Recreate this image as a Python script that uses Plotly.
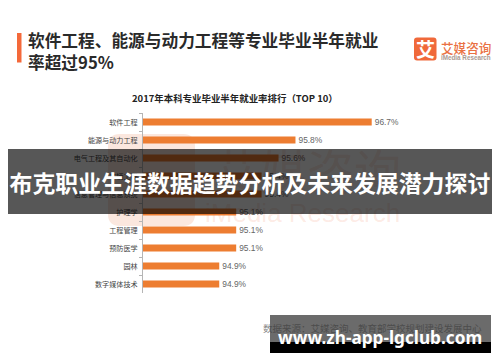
import plotly.graph_objects as go

categories = ["软件工程", "能源与动力工程", "电气工程及其自动化", "车辆工程", "信息管理与信息系统",
              "护理学", "工程管理", "预防医学", "园林", "数字媒体技术"]
rates = [96.7, 95.8, 95.6, 95.4, 95.4, 95.1, 95.1, 95.1, 94.9, 94.9]
title_lines = "软件工程、能源与动力工程等专业毕业半年就业<br>率超过95%"
chart_title = "2017年本科专业毕业半年就业率排行（TOP 10）"
source_text = "数据来源：艾媒咨询、教育部学校规划建设发展中心"
band_text = "布克职业生涯数据趋势分析及未来发展潜力探讨"
url_text = "www.zh-app-lgclub.com"

W, H = 500, 362
L, R, T, B = 143, 420, 113, 293
CJK = "Noto Sans CJK SC"


def xp(px):
    return (px - L) / (R - L)


def yp(py):
    return (B - py) / (B - T)


def note(text, x, y, size, color, xanchor="left", yanchor="middle", weight=None, family=CJK, **kw):
    font = dict(family=family, size=size, color=color)
    if weight:
        font["weight"] = weight
    return dict(text=text, x=xp(x), y=yp(y), xref="paper", yref="paper", xanchor=xanchor,
                yanchor=yanchor, showarrow=False, font=font, borderpad=0, borderwidth=0, **kw)


def box(x0, y0, x1, y1, color, text=" ", size=10, **kw):
    return note(text, x0, y0, size, "#ffffff", yanchor="top", bgcolor=color,
                width=x1 - x0, height=y1 - y0, align="center", **kw)


def rounded(x0, y0, x1, y1, r, color, layer):
    p = (f"M {xp(x0 + r)} {yp(y0)} L {xp(x1 - r)} {yp(y0)} Q {xp(x1)} {yp(y0)} {xp(x1)} {yp(y0 + r)} "
         f"L {xp(x1)} {yp(y1 - r)} Q {xp(x1)} {yp(y1)} {xp(x1 - r)} {yp(y1)} "
         f"L {xp(x0 + r)} {yp(y1)} Q {xp(x0)} {yp(y1)} {xp(x0)} {yp(y1 - r)} "
         f"L {xp(x0)} {yp(y0 + r)} Q {xp(x0)} {yp(y0)} {xp(x0 + r)} {yp(y0)} Z")
    return dict(type="path", xref="paper", yref="paper", path=p, fillcolor=color, line_width=0, layer=layer)


WM = "#fbe7de"
WM_TEXT = "rgba(240,110,60,0.15)"
shapes = [
    dict(type="rect", xref="paper", yref="paper", x0=xp(17), x1=xp(21.5), y0=yp(33), y1=yp(62.5),
         fillcolor="#f4693a", line_width=0, layer="above"),
    rounded(108, 134, 195, 226, 12, WM, "below"),
    rounded(414, 37.5, 436.5, 60.5, 3, "#f0693a", "above"),
]

annotations = [
    note("艾媒咨询", 213, 168, 47, WM_TEXT),
    note("iMedia Research", 205, 213, 26, WM_TEXT, family="Liberation Sans"),
    note(title_lines, 28, 51, 16.7, "#2a2a2a", weight=700, align="left"),
    note(chart_title, 234.5, 98, 9.45, "#222222", xanchor="center", weight=700),
    note("艾", 425, 49, 19, "#ffffff", xanchor="center", weight=700),
    note("艾媒咨询", 441, 47, 12.6, "#ea7144", weight=500),
    note("iMedia Research", 441, 57, 6.3, "#aa9a92", family="Liberation Sans", weight=700),
    note(source_text, 263, 328, 9.5, "#888888"),
    box(8, 149, 492, 214, "rgba(0,0,0,0.66)", text=band_text, size=22.9),
    box(270, 315, 491, 342, "rgba(55,55,55,0.74)"),
    box(270, 342, 491, 353, "#000000"),
    note(url_text, 380, 337, 17.2, "#ffffff", xanchor="center", weight=700, family="Noto Sans"),
]
annotations[8]["font"]["weight"] = 700

fig = go.Figure(go.Bar(
    x=rates, y=categories, orientation="h",
    marker=dict(color="#ed7d31", line_width=0),
    text=[f"{v:.1f}%" for v in rates], textposition="outside", cliponaxis=False,
    textfont=dict(family="Liberation Sans", size=8.4, color="#666666"),
))
fig.update_layout(
    width=W, height=H, autosize=False,
    margin=dict(l=L, r=W - R, t=T, b=H - B, pad=0),
    paper_bgcolor="#ffffff", plot_bgcolor="rgba(0,0,0,0)",
    bargap=0.6, showlegend=False, uniformtext=dict(minsize=8, mode="show"),
    shapes=shapes, annotations=annotations,
    xaxis=dict(range=[94, 97.27], visible=False),
    yaxis=dict(autorange="reversed", type="category", showline=True, linecolor="#b5b5b5", linewidth=1,
               ticks="outside", ticklen=3, tickcolor="#b5b5b5", tickson="boundaries", showgrid=False,
               ticklabelstandoff=3,
               tickfont=dict(family=CJK, size=7.1, color="#444444")),
)
fig.write_html("out.html", config=dict(displayModeBar=False),
               post_script="document.body.style.margin='0';document.documentElement.style.overflow='hidden';")
